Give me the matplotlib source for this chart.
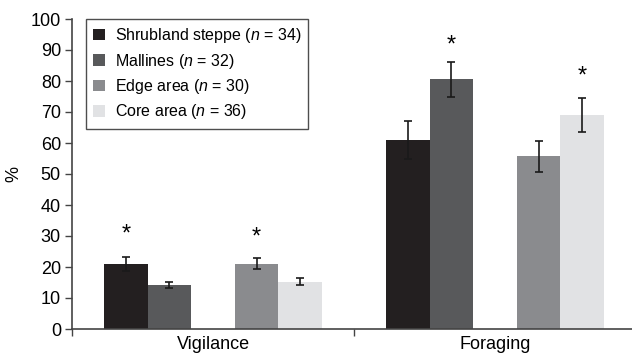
import numpy as np
import matplotlib
matplotlib.use('Agg')
import matplotlib.pyplot as plt

plt.rcParams['font.family'] = ['Liberation Sans', 'DejaVu Sans']
plt.rcParams['mathtext.fontset'] = 'custom'
plt.rcParams['mathtext.rm'] = 'Liberation Sans'
plt.rcParams['mathtext.it'] = 'Liberation Sans:italic'

# data
categories = ['Vigilance', 'Foraging']
groups = [r'Shrubland steppe ($n$ = 34)', r'Mallines ($n$ = 32)',
          r'Edge area ($n$ = 30)', r'Core area ($n$ = 36)']
shrubland = [21.0, 61.0]
mallines = [14.2, 80.6]
edge = [21.0, 55.8]
core = [15.2, 69.0]
shrubland_err = [2.2, 6.2]
mallines_err = [1.0, 5.6]
edge_err = [1.8, 5.0]
core_err = [1.1, 5.5]
# significance asterisks: (group index, category index, height)
stars = [(0, 0, 30.5), (2, 0, 29.5), (1, 1, 91.5), (3, 1, 81.5)]

colors = ['#231f20', '#58595b', '#8a8b8e', '#e1e2e4']

fig = plt.figure(figsize=(6.32, 3.55), dpi=100)
ax = fig.add_axes([72 / 632, 26 / 355, 564 / 632, 310 / 355])

x = np.arange(len(categories))
w = 0.1545
offsets = [-2 * w, -w, w, 2 * w]
series = [shrubland, mallines, edge, core]
errs = [shrubland_err, mallines_err, edge_err, core_err]

for i in range(4):
    ax.bar(x + offsets[i], series[i], w, color=colors[i], label=groups[i],
           yerr=errs[i], error_kw=dict(ecolor='#1a1a1a', elinewidth=1.2,
                                       capsize=3, capthick=1.2))

for g, c, h in stars:
    ax.text(x[c] + offsets[g], h, '*', ha='center', va='center', fontsize=17)

ax.set_xlim(-0.5, 1.5)
ax.set_ylim(0, 100)
ax.set_yticks(np.arange(0, 101, 10))
ax.set_xticks(x)
ax.set_xticklabels(categories)
ax.set_xticks([-0.5, 0.5, 1.5], minor=True)
ax.tick_params(axis='x', which='major', length=0, labelsize=13, pad=5)
ax.tick_params(axis='x', which='minor', length=5, width=1, color='#444444',
               direction='out')
ax.tick_params(axis='y', length=5, width=1, color='#444444', labelsize=13, pad=3)
ax.set_ylabel('%', fontsize=13, labelpad=6)

for s in ['top', 'right']:
    ax.spines[s].set_visible(False)
for s in ['left', 'bottom']:
    ax.spines[s].set_color('#444444')
    ax.spines[s].set_linewidth(1.2)

leg = ax.legend(loc='upper left', bbox_to_anchor=(14 / 564, 1.0), borderaxespad=0,
                fontsize=11.5, handlelength=0.75, handleheight=0.75,
                handletextpad=0.6, labelspacing=0.4, fancybox=False,
                frameon=True, borderpad=0.45)
leg.get_frame().set_edgecolor('#222222')
leg.get_frame().set_linewidth(1.0)

fig.savefig('out.png', dpi=100)
